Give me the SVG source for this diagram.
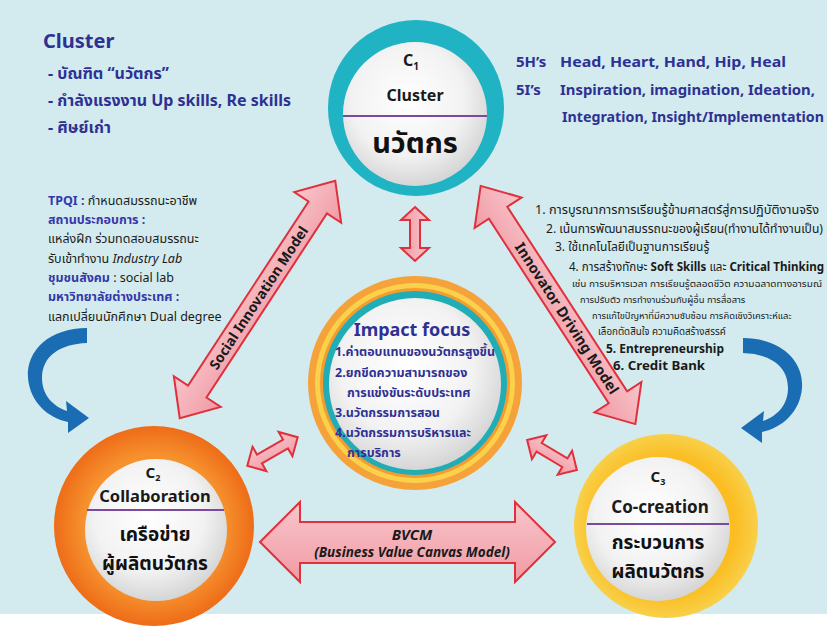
<svg xmlns="http://www.w3.org/2000/svg" width="830" height="630" viewBox="0 0 830 630">
<defs>
<radialGradient id="gw" cx="45%" cy="40%" r="65%"><stop offset="0" stop-color="#ffffff"/><stop offset="0.6" stop-color="#f2f2f2"/><stop offset="1" stop-color="#cfcfcf"/></radialGradient>
<radialGradient id="gOr" cx="50%" cy="50%" r="50%"><stop offset="0.7" stop-color="#f6922e"/><stop offset="1" stop-color="#ee6c18"/></radialGradient>
<radialGradient id="gYe" cx="50%" cy="50%" r="50%"><stop offset="0.75" stop-color="#fbbd22"/><stop offset="1" stop-color="#f8d04a"/></radialGradient>
<linearGradient id="gPk" x1="0" y1="0" x2="0" y2="1"><stop offset="0" stop-color="#f8c6cc"/><stop offset="1" stop-color="#f19aa4"/></linearGradient>
<path id="bigArr" d="M-142 0 L-110 -28 L-110 -11 L110 -11 L110 -28 L142 0 L110 28 L110 11 L-110 11 L-110 28 Z"/>
<path id="blueArr" d="M87 328 C50 328 26 350 28 378 C30 402 48 418 68 422 L68 433 L89 418 L66 401 L67 411 C52 406 42 394 42 378 C42 356 60 344 87 343 Z"/>
</defs>
<style>
.pk{fill:url(#gPk);stroke:#e0303c;stroke-width:2;stroke-linejoin:miter}
.bl{fill:#1b6db3}
.t{font-family:"Noto Sans","Noto Sans Thai","DejaVu Sans",sans-serif}
.nv{fill:#2e3192;font-weight:bold}
.bk{fill:#1a1a1a}
.lb{fill:#3338a8;font-weight:bold}
.dv{stroke:#7b4a9e;stroke-width:2}
</style>
<rect x="0" y="0" width="830" height="630" fill="#ffffff"/>
<rect x="0" y="0" width="827" height="614" fill="#d3ebef"/>

<g id="connectors">
<use href="#blueArr" class="bl"/>
<use href="#blueArr" class="bl" transform="translate(830 10) scale(-1 1)"/>
<g id="social-arrow" transform="translate(257.5 299.5) rotate(-56.8)">
<use href="#bigArr" class="pk"/>
<text class="t" x="2" y="5" text-anchor="middle" font-size="14" font-weight="bold" fill="#1a1a1a">Social Innovation Model</text>
</g>
<g id="innovator-arrow" transform="translate(558 305) rotate(57)">
<use href="#bigArr" class="pk"/>
<text class="t" x="16" y="5" text-anchor="middle" font-size="14.5" font-weight="bold" fill="#1a1a1a">Innovator Driving Model</text>
</g>
<g id="bvcm-arrow">
<path class="pk" d="M260 542 L300 502 L300 522 L515 522 L515 502 L555 542 L515 582 L515 563 L300 563 L300 582 Z"/>
<text class="t" x="412" y="540" text-anchor="middle" font-size="15" font-weight="bold" font-style="italic" fill="#1a1a1a">BVCM</text>
<text class="t" x="412" y="557" text-anchor="middle" font-size="13.5" font-weight="bold" font-style="italic" fill="#1a1a1a">(Business Value Canvas Model)</text>
</g>
<path class="pk" transform="translate(415 234) rotate(90)" d="M-27 0 L-14 -14 L-14 -5 L14 -5 L14 -14 L27 0 L14 14 L14 5 L-14 5 L-14 14 Z"/>
<path class="pk" transform="translate(272.5 451.5) rotate(-29.6)" d="M-29 0 L-15 -14 L-15 -5 L15 -5 L15 -14 L29 0 L15 14 L15 5 L-15 5 L-15 14 Z"/>
<path class="pk" transform="translate(552 455) rotate(31)" d="M-29 0 L-15 -14 L-15 -5 L15 -5 L15 -14 L29 0 L15 14 L15 5 L-15 5 L-15 14 Z"/>
</g>

<g id="c1">
<circle cx="416" cy="108" r="88" fill="#1fb3c4"/>
<circle cx="415" cy="114" r="72" fill="url(#gw)"/>
<text class="t" x="411" y="66" text-anchor="middle" font-size="16" font-weight="bold" fill="#1a1a1a">C<tspan font-size="10" dy="4">1</tspan></text>
<text class="t" x="415" y="101" text-anchor="middle" font-size="16" font-weight="bold" fill="#1a1a1a">Cluster</text>
<line class="dv" x1="343" y1="116" x2="487" y2="116"/>
<text class="t" x="415" y="153" text-anchor="middle" font-size="29" font-weight="bold" fill="#111">นวัตกร</text>
</g>

<g id="c2">
<circle cx="154" cy="526" r="100" fill="url(#gOr)"/>
<circle cx="156" cy="530" r="71" fill="url(#gw)"/>
<text class="t" x="153" y="478" text-anchor="middle" font-size="15" font-weight="bold" fill="#1a1a1a">C<tspan font-size="9" dy="3">2</tspan></text>
<text class="t" x="155" y="502" text-anchor="middle" font-size="16.5" font-weight="bold" fill="#1a1a1a">Collaboration</text>
<line class="dv" x1="87" y1="510" x2="224" y2="510"/>
<text class="t" x="155" y="541" text-anchor="middle" font-size="19" font-weight="bold" fill="#111">เครือข่าย</text>
<text class="t" x="155" y="570" text-anchor="middle" font-size="19" font-weight="bold" fill="#111">ผู้ผลิตนวัตกร</text>
</g>

<g id="c3">
<circle cx="666" cy="526" r="92" fill="url(#gYe)"/>
<circle cx="658" cy="529" r="72" fill="url(#gw)"/>
<text class="t" x="658" y="482" text-anchor="middle" font-size="15" font-weight="bold" fill="#1a1a1a">C<tspan font-size="9" dy="3">3</tspan></text>
<text class="t" x="660" y="513" text-anchor="middle" font-size="17" font-weight="bold" fill="#1a1a1a">Co-creation</text>
<line class="dv" x1="587" y1="524" x2="729" y2="524"/>
<text class="t" x="658" y="549" text-anchor="middle" font-size="19" font-weight="bold" fill="#111">กระบวนการ</text>
<text class="t" x="658" y="578" text-anchor="middle" font-size="19" font-weight="bold" fill="#111">ผลิตนวัตกร</text>
</g>

<g id="impact">
<circle cx="415" cy="383" r="107" fill="#f5a23a"/>
<circle cx="415" cy="383" r="100" fill="#fbd04a"/>
<circle cx="415" cy="383" r="95" fill="#f49b32"/>
<circle cx="415" cy="383" r="92" fill="#21adb6"/>
<circle cx="415" cy="384" r="86" fill="url(#gw)"/>
<text class="t nv" x="412" y="336" text-anchor="middle" font-size="18">Impact focus</text>
<g class="t nv" font-size="12.5">
<text x="335" y="356" textLength="160" lengthAdjust="spacingAndGlyphs">1.ค่าตอบแทนของนวัตกรสูงขึ้น</text>
<text x="335" y="377">2.ยกขีดความสามารถของ</text>
<text x="347" y="397">การแข่งขันระดับประเทศ</text>
<text x="335" y="417">3.นวัตกรรมการสอน</text>
<text x="335" y="437">4.นวัตกรรมการบริหารและ</text>
<text x="347" y="457">การบริการ</text>
</g>
</g>

<g id="cluster-text" class="t nv">
<text x="43" y="48" font-size="20">Cluster</text>
<text x="48" y="79" font-size="16">- บัณฑิต “นวัตกร”</text>
<text x="48" y="106" font-size="16">- กำลังแรงงาน  Up skills, Re skills</text>
<text x="48" y="133" font-size="16">- ศิษย์เก่า</text>
</g>

<g id="h-text" class="t nv" font-size="15">
<text x="516" y="67">5H’s</text><text x="560" y="67" textLength="226" lengthAdjust="spacingAndGlyphs">Head, Heart, Hand, Hip, Heal</text>
<text x="516" y="95">5I’s</text><text x="560" y="95" textLength="255" lengthAdjust="spacingAndGlyphs">Inspiration, imagination, Ideation,</text>
<text x="562" y="122" font-size="14.5" textLength="262" lengthAdjust="spacingAndGlyphs">Integration, Insight/Implementation</text>
</g>

<g id="left-text" class="t" font-size="12.5">
<text x="48" y="205"><tspan class="lb">TPQI :</tspan><tspan class="bk"> กำหนดสมรรถนะอาชีพ</tspan></text>
<text x="48" y="224" class="lb">สถานประกอบการ :</text>
<text x="48" y="243" class="bk">แหล่งฝึก ร่วมทดสอบสมรรถนะ</text>
<text x="48" y="263" class="bk">รับเข้าทำงาน <tspan font-style="italic">Industry Lab</tspan></text>
<text x="48" y="282"><tspan class="lb">ชุมชนสังคม</tspan><tspan class="bk"> : social lab</tspan></text>
<text x="48" y="301" class="lb">มหาวิทยาลัยต่างประเทศ :</text>
<text x="48" y="321" class="bk">แลกเปลี่ยนนักศึกษา Dual degree</text>
</g>

<g id="right-text" class="t bk">
<text x="535" y="214" font-size="12" textLength="284" lengthAdjust="spacingAndGlyphs">1. การบูรณาการการเรียนรู้ข้ามศาสตร์สู่การปฏิบัติงานจริง</text>
<text x="546" y="233" font-size="12" textLength="277" lengthAdjust="spacingAndGlyphs">2. เน้นการพัฒนาสมรรถนะของผู้เรียน(ทำงานได้ทำงานเป็น)</text>
<text x="555" y="251" font-size="12">3. ใช้เทคโนโลยีเป็นฐานการเรียนรู้</text>
<text x="569" y="271" font-size="12" textLength="255" lengthAdjust="spacingAndGlyphs">4. การสร้างทักษะ  <tspan font-weight="bold">Soft Skills</tspan> และ <tspan font-weight="bold">Critical Thinking</tspan></text>
<text x="572" y="287" font-size="9.6" textLength="250" lengthAdjust="spacingAndGlyphs">เช่น การบริหารเวลา การเรียนรู้ตลอดชีวิต ความฉลาดทางอารมณ์</text>
<text x="580" y="303" font-size="9.4">การปรับตัว การทำงานร่วมกับผู้อื่น การสื่อสาร</text>
<text x="592" y="319" font-size="9.4">การแก้ไขปัญหาที่มีความซับซ้อน การคิดเชิงวิเคราะห์และ</text>
<text x="598" y="335" font-size="9.8">เลือกตัดสินใจ ความคิดสร้างสรรค์</text>
<text x="606" y="353" font-size="12.5" font-weight="bold" textLength="118" lengthAdjust="spacingAndGlyphs">5. Entrepreneurship</text>
<text x="613" y="370" font-size="12.5" font-weight="bold" textLength="92" lengthAdjust="spacingAndGlyphs">6. Credit Bank</text>
</g>
</svg>
